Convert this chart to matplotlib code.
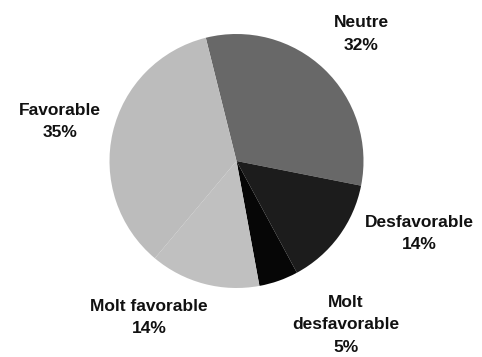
import matplotlib
matplotlib.use("Agg")
import matplotlib.pyplot as plt

categories = ["Neutre", "Desfavorable", "Molt\ndesfavorable", "Molt favorable", "Favorable"]
percentages = [32, 14, 5, 14, 35]
colors = ["#686868", "#1c1c1c", "#060606", "#c0c0c0", "#bcbcbc"]

# label centres in pie-radius units, placed like the original
label_pos = [(0.98, 1.0), (1.44, -0.57), (0.86, -1.29), (-0.69, -1.23), (-1.39, 0.31)]

plt.rcParams['font.family'] = ['Liberation Sans', 'DejaVu Sans']

fig = plt.figure(figsize=(4.82, 3.57), dpi=100)
cx, cy, r = 236.5, 161, 127
ax = fig.add_axes([(cx - r) / 482, (357 - cy - r) / 357, 2 * r / 482, 2 * r / 357])

ax.pie(percentages, colors=colors, startangle=104, counterclock=False,
       radius=1, wedgeprops={"linewidth": 0})
ax.set_xlim(-1, 1)
ax.set_ylim(-1, 1)
ax.axis("off")

for name, pct, (x, y) in zip(categories, percentages, label_pos):
    ax.text(x, y, f"{name}\n{pct}%", ha="center", va="center",
            fontsize=12.5, fontweight="bold", linespacing=1.6, color="#111111")

fig.savefig("out.png", dpi=100)
